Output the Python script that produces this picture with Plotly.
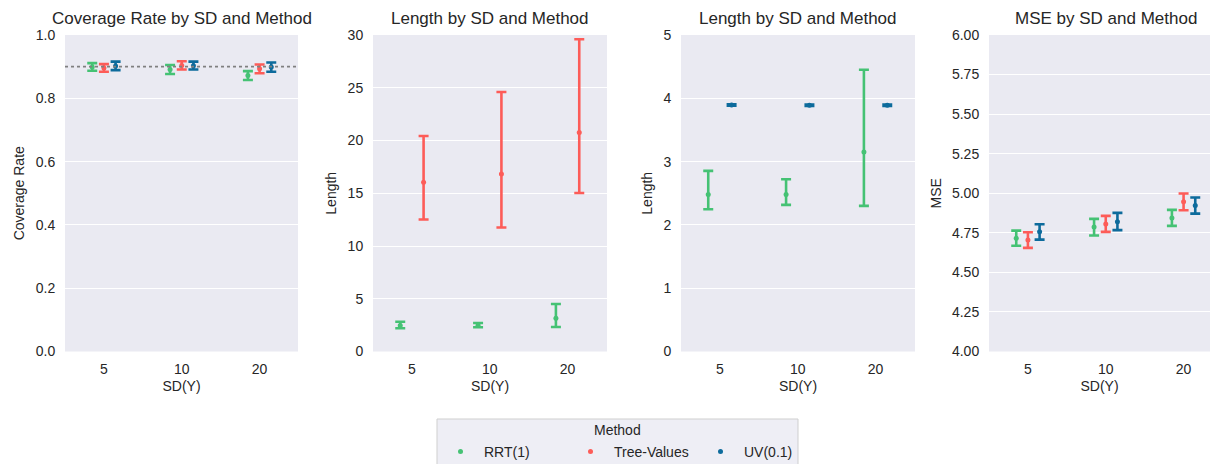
import plotly.graph_objects as go

# ---------------- data ----------------
sd_labels = ["5", "10", "20"]
methods = ["RRT(1)", "Tree-Values", "UV(0.1)"]
colors = {"RRT(1)": "#45c274", "Tree-Values": "#fd5c58", "UV(0.1)": "#0d6b9c"}

# Coverage rate: centre, lower, upper
cov_mid = {"RRT(1)": [0.899, 0.891, 0.872], "Tree-Values": [0.896, 0.904, 0.893], "UV(0.1)": [0.902, 0.903, 0.899]}
cov_lo = {"RRT(1)": [0.887, 0.877, 0.858], "Tree-Values": [0.884, 0.891, 0.879], "UV(0.1)": [0.889, 0.891, 0.884]}
cov_hi = {"RRT(1)": [0.911, 0.905, 0.886], "Tree-Values": [0.908, 0.917, 0.907], "UV(0.1)": [0.916, 0.916, 0.913]}

# Length (RRT vs Tree-Values)
len2_mid = {"RRT(1)": [2.47, 2.48, 3.14], "Tree-Values": [16.05, 16.83, 20.75]}
len2_lo = {"RRT(1)": [2.20, 2.30, 2.32], "Tree-Values": [12.51, 11.75, 15.03]}
len2_hi = {"RRT(1)": [2.82, 2.70, 4.50], "Tree-Values": [20.43, 24.60, 29.60]}

# Length (RRT vs UV)
len3_mid = {"RRT(1)": [2.48, 2.48, 3.15], "UV(0.1)": [3.895, 3.89, 3.89]}
len3_lo = {"RRT(1)": [2.248, 2.316, 2.30], "UV(0.1)": [3.883, 3.88, 3.88]}
len3_hi = {"RRT(1)": [2.853, 2.72, 4.45], "UV(0.1)": [3.907, 3.90, 3.90]}

# MSE
mse_mid = {"RRT(1)": [4.716, 4.786, 4.844], "Tree-Values": [4.705, 4.806, 4.947], "UV(0.1)": [4.756, 4.820, 4.922]}
mse_lo = {"RRT(1)": [4.668, 4.733, 4.794], "Tree-Values": [4.655, 4.756, 4.893], "UV(0.1)": [4.707, 4.767, 4.871]}
mse_hi = {"RRT(1)": [4.764, 4.838, 4.895], "Tree-Values": [4.754, 4.857, 4.998], "UV(0.1)": [4.804, 4.876, 4.973]}

panels = [
    dict(title="Coverage Rate by SD and Method", ytitle="Coverage Rate", mid=cov_mid, lo=cov_lo, hi=cov_hi,
         yrange=[0, 1], dtick=0.2, fmt=".1f"),
    dict(title="Length by SD and Method", ytitle="Length", mid=len2_mid, lo=len2_lo, hi=len2_hi,
         yrange=[0, 30], dtick=5, fmt="d"),
    dict(title="Length by SD and Method", ytitle="Length", mid=len3_mid, lo=len3_lo, hi=len3_hi,
         yrange=[0, 5], dtick=1, fmt="d"),
    dict(title="MSE by SD and Method", ytitle="MSE", mid=mse_mid, lo=mse_lo, hi=mse_hi,
         yrange=[4, 6], dtick=0.25, fmt=".2f"),
]

W, H = 1210, 464
px_domains = [(65, 298), (373, 607), (681, 915), (989, 1210)]
cat_w = 233.5 / 3.0
y_dom = [1 - 351.5 / H, 1 - 35 / H]
dodge = 0.3
text_col = "#262626"
font_fam = "Liberation Sans, Arial, sans-serif"

fig = go.Figure()
shown = set()
for k, p in enumerate(panels):
    ax = "" if k == 0 else str(k + 1)
    present = list(p["mid"].keys())
    n = len(present)
    offs = [(-dodge / 2 + dodge * j / (n - 1)) if n > 1 else 0 for j in range(n)]
    for j, m in enumerate(present):
        mid = p["mid"][m]
        lo = p["lo"][m]
        hi = p["hi"][m]
        xs = [i + offs[j] for i in range(len(sd_labels))]
        fig.add_trace(go.Scatter(
            x=xs, y=mid, mode="markers",
            marker=dict(color=colors[m], size=5, symbol="circle"),
            error_y=dict(type="data", symmetric=False,
                         array=[h - c for h, c in zip(hi, mid)],
                         arrayminus=[c - l for c, l in zip(mid, lo)],
                         color=colors[m], thickness=2.6, width=5),
            name=m, legendgroup=m, showlegend=(m not in shown),
            xaxis="x" + ax, yaxis="y" + ax,
        ))
        shown.add(m)

    x0, x1 = px_domains[k]
    xr_end = -0.5 + (x1 - x0) / cat_w
    fig.update_layout(**{
        "xaxis" + ax: dict(domain=[x0 / W, x1 / W], range=[-0.5, xr_end], tickmode="array",
                           tickvals=[0, 1, 2], ticktext=sd_labels, showgrid=False, zeroline=False,
                           ticks="outside", ticklen=5, tickcolor="rgba(0,0,0,0)",
                           title=dict(text="SD(Y)", standoff=4, font=dict(size=14, color=text_col)),
                           tickfont=dict(size=14, color=text_col), anchor="y" + ax, automargin=False),
        "yaxis" + ax: dict(domain=y_dom, range=p["yrange"], dtick=p["dtick"], tick0=p["yrange"][0],
                           tickformat=p["fmt"], showgrid=True, gridcolor="white", gridwidth=1.2,
                           zeroline=False, ticks="outside", ticklen=6, tickcolor="rgba(0,0,0,0)",
                           title=dict(text=p["ytitle"], standoff=7, font=dict(size=14, color=text_col)),
                           tickfont=dict(size=14, color=text_col), anchor="x" + ax, automargin=False),
    })
    fig.add_annotation(text=p["title"], x=((x0 + min(x0 + 233.5, 1222)) / 2) / W, y=1 - 19 / H,
                       xref="paper", yref="paper", showarrow=False, xanchor="center", yanchor="middle",
                       font=dict(size=17, color=text_col))

# reference line at 0.9 on coverage panel
fig.add_shape(type="line", xref="x domain", yref="y", x0=0, x1=1, y0=0.9, y1=0.9,
              line=dict(color="#808080", width=1.6, dash="dot"))

# legend frame (runs past the bottom edge as in the reference)
fig.add_shape(type="rect", xref="paper", yref="paper", x0=437 / W, x1=798 / W,
              y0=1 - 480 / H, y1=1 - 419 / H, layer="below",
              fillcolor="rgba(234,234,242,0.8)", line=dict(color="#cfcfcf", width=1))
fig.add_annotation(text="Method", x=617 / W, y=1 - 430 / H, xref="paper", yref="paper",
                   showarrow=False, xanchor="center", yanchor="middle", font=dict(size=14, color=text_col))

fig.update_layout(
    width=W, height=H, margin=dict(l=0, r=0, t=0, b=0, autoexpand=False),
    paper_bgcolor="white", plot_bgcolor="#eaeaf2",
    font=dict(family=font_fam, color=text_col, size=14),
    legend=dict(orientation="h", x=437 / W, y=1 - 452 / H, xanchor="left", yanchor="middle",
                bgcolor="rgba(0,0,0,0)", borderwidth=0, itemwidth=37,
                font=dict(size=14), entrywidth=78, itemsizing="trace"),
)

fig.write_html("out.html")
